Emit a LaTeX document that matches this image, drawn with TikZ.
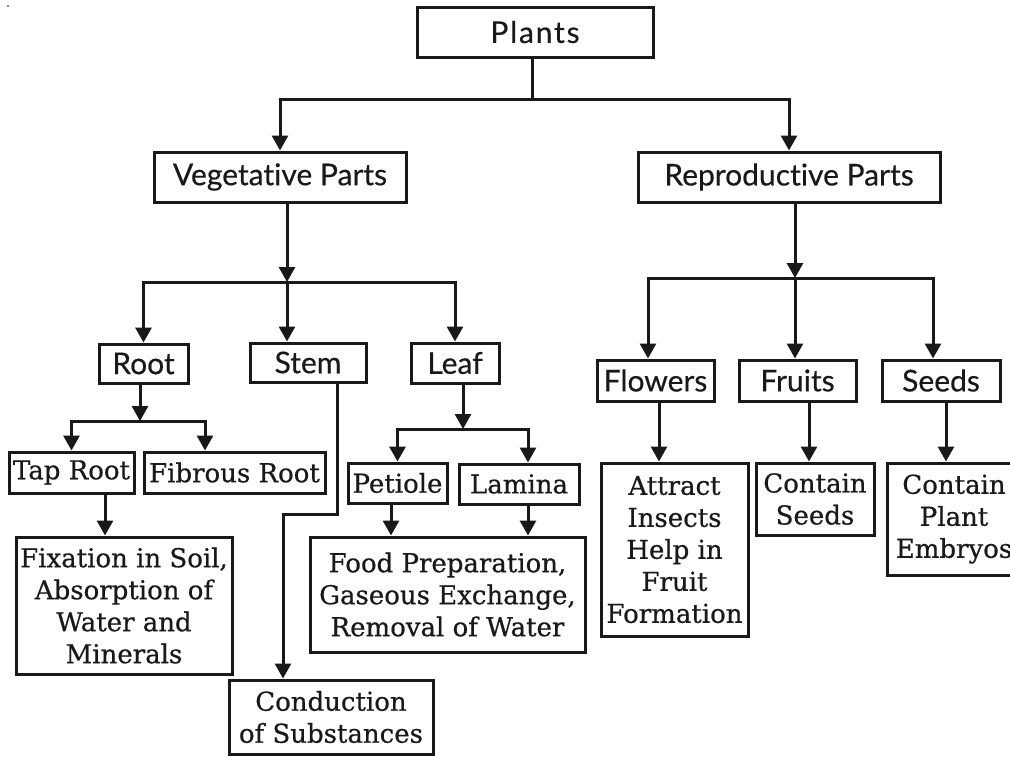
\documentclass[tikz,border=0pt]{standalone}
\usepackage{fontspec}
\setmainfont[FakeBold=0.6]{DejaVu Serif}
\newfontfamily\lato[Ligatures=NoCommon,FakeBold=0.4]{Lato}
\newfontfamily\latowide[Ligatures=NoCommon,FakeBold=0.4,LetterSpace=6]{Lato}
\usetikzlibrary{arrows.meta}
\begin{document}
\begin{tikzpicture}[x=1pt,y=-1pt,
  box/.style={draw=black!90, line width=3pt, inner sep=0pt, align=center, text=black!90},
  topbox/.style={box, font=\lato\fontsize{30}{34}\selectfont},
  lowbox/.style={box, font=\fontsize{26}{32}\selectfont},
  arr/.style={draw=black!90, line width=3pt, -{Triangle[width=16pt,length=15pt]}},
  con/.style={draw=black!90, line width=3pt}]
\useasboundingbox (0,0) rectangle (1010,756);
\fill[black!60] (8,6) circle (1.2pt);
% nodes
\node[topbox, font=\latowide\fontsize{30}{34}\selectfont, minimum width=236pt, minimum height=50pt] (plants) at (535,32) {Plants};
\node[topbox, minimum width=252pt, minimum height=50pt] (veg) at (280,177) {Vegetative Parts};
\node[topbox, minimum width=302pt, minimum height=50pt] (rep) at (789,177) {Reproductive Parts};
\node[topbox, minimum width=89pt, minimum height=39pt] (root) at (143.5,363.5) {Root};
\node[topbox, minimum width=116pt, minimum height=39pt] (stem) at (308,362.5) {Stem};
\node[topbox, minimum width=88pt, minimum height=40pt] (leaf) at (455,363) {Leaf};
\node[topbox, minimum width=117pt, minimum height=41pt] (flowers) at (655.5,380.5) {Flowers};
\node[topbox, minimum width=117pt, minimum height=41pt] (fruits) at (797.5,380.5) {Fruits};
\node[topbox, minimum width=118pt, minimum height=41pt] (seeds) at (941,380.5) {Seeds};
\node[lowbox, minimum width=125pt, minimum height=41pt] (taproot) at (71.5,472.5) {Tap Root};
\node[lowbox, minimum width=181pt, minimum height=41pt] (fibrous) at (234.5,472.5) {Fibrous Root};
\node[lowbox, minimum width=216pt, minimum height=137pt] (fixation) at (124,605.5) {Fixation in Soil,\\Absorption of\\Water and\\Minerals};
\node[lowbox, minimum width=99pt, minimum height=40pt] (petiole) at (397.5,483) {Petiole};
\node[lowbox, minimum width=120pt, minimum height=40pt] (lamina) at (519,484) {Lamina};
\node[lowbox, minimum width=275pt, minimum height=115pt] (food) at (447.5,594.5) {Food Preparation,\\Gaseous Exchange,\\Removal of Water};
\node[lowbox, minimum width=204pt, minimum height=74pt] (conduction) at (331,717) {Conduction\\of Substances};
\node[lowbox, minimum width=147pt, minimum height=173pt] (attract) at (674.5,549.5) {Attract\\Insects\\Help in\\Fruit\\Formation};
\node[lowbox, minimum width=118pt, minimum height=72pt] (cseeds) at (815,499) {Contain\\Seeds};
\node[lowbox, minimum width=134pt, minimum height=112pt] (embryos) at (954,519) {Contain\\Plant\\Embryos};
% junctions
\coordinate (j1) at (532,99);
\coordinate (j2) at (287,282);
\coordinate (j3) at (140,421);
\coordinate (fr) at (205,421);
\coordinate (td) at (105,500);
\coordinate (sb) at (337,514);
\coordinate (sc) at (283,514);
\coordinate (j4) at (463,429);
\coordinate (la) at (528,429);
\coordinate (pd) at (391,520);
\coordinate (j5) at (795,278);
\coordinate (fl) at (648,278);
\coordinate (se) at (933,278);
\coordinate (fd) at (659,430);
\coordinate (ud) at (809,430);
\coordinate (sd) at (946,430);
% connectors
\draw[con] (plants.south -| j1) -- (j1);
\draw[arr] (j1) -| (veg.north);
\draw[arr] (j1) -| (rep.north);
\draw[arr] (veg.south -| j2) -- (j2);
\draw[arr] (j2) -| (root.north);
\draw[arr] (j2) -- (j2 |- stem.north);
\draw[arr] (j2) -| (leaf.north);
\draw[arr] (root.south -| j3) -- (j3);
\draw[arr] (j3) -| (taproot.north);
\draw[arr] (j3) -- (fr) -- (fr |- fibrous.north);
\draw[arr] (td |- taproot.south) -- (td |- fixation.north);
\draw[arr] (stem.south -| sb) -- (sb) -- (sc) -- (sc |- conduction.north);
\draw[arr] (leaf.south -| j4) -- (j4);
\draw[arr] (j4) -| (petiole.north);
\draw[arr] (j4) -- (la) -- (la |- lamina.north);
\draw[arr] (pd |- petiole.south) -- (pd |- food.north);
\draw[arr] (la |- lamina.south) -- (la |- food.north);
\draw[arr] (rep.south -| j5) -- (j5);
\draw[arr] (j5) -- (fl) -- (fl |- flowers.north);
\draw[arr] (j5) -- (j5 |- fruits.north);
\draw[arr] (j5) -- (se) -- (se |- seeds.north);
\draw[arr] (fd |- flowers.south) -- (fd |- attract.north);
\draw[arr] (ud |- fruits.south) -- (ud |- cseeds.north);
\draw[arr] (sd |- seeds.south) -- (sd |- embryos.north);
\end{tikzpicture}
\end{document}
